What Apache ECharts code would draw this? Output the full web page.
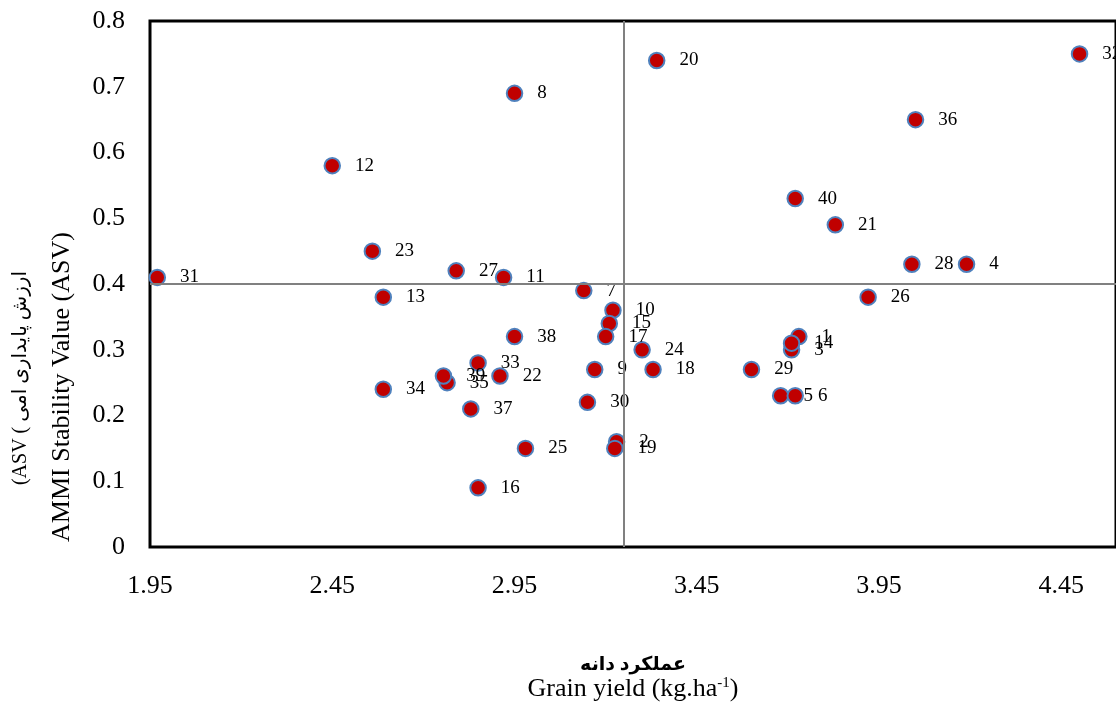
<!DOCTYPE html>
<html>
<head>
<meta charset="utf-8">
<script src="https://cdn.jsdelivr.net/npm/echarts@6/dist/echarts.min.js"></script>
<style>
html,body{margin:0;padding:0;background:#fff;}
#chart{width:1116px;height:721px;}
</style>
</head>
<body>
<div id="chart"></div>
<script>
// ---- data ----
const genotypes = ['1','2','3','4','5','6','7','8','9','10','11','12','13','14','15','16','17','18','19','20',
                   '21','22','23','24','25','26','27','28','29','30','31','32','33','34','35','36','37','38','39','40'];
const grainYield = [3.73,3.23,3.71,4.19,3.68,3.72,3.14,2.95,3.17,3.22,2.92,2.45,2.59,3.71,3.21,2.85,3.20,3.33,3.225,3.34,
                    3.83,2.91,2.56,3.30,2.98,3.92,2.79,4.04,3.60,3.15,1.97,4.50,2.85,2.59,2.765,4.05,2.83,2.95,2.755,3.72];
const asvValues  = [0.32,0.16,0.30,0.43,0.23,0.23,0.39,0.69,0.27,0.36,0.41,0.58,0.38,0.31,0.34,0.09,0.32,0.27,0.15,0.74,
                    0.49,0.26,0.45,0.30,0.15,0.38,0.42,0.43,0.27,0.22,0.41,0.75,0.28,0.24,0.25,0.65,0.21,0.32,0.26,0.53];
const meanYield = 3.25;
const meanASV = 0.4;
const xTickMin = 1.95, xTickStep = 0.5, xMax = 4.6;
const yTickMin = 0, yTickStep = 0.1, yMax = 0.8;

const FONT = "'Liberation Serif', 'Times New Roman', 'DejaVu Sans', serif";

const points = genotypes.map((g, i) => ({ name: g, value: [grainYield[i], asvValues[i]] }));

const chart = echarts.init(document.getElementById('chart'), null, { renderer: 'canvas' });
chart.setOption({
  animation: false,
  backgroundColor: '#fff',
  grid: { left: 150, right: 0, top: 21, bottom: 174, show: true, borderColor: '#000', borderWidth: 3, backgroundColor: 'transparent' },
  xAxis: {
    type: 'value', min: xTickMin, max: xMax, interval: xTickStep,
    axisLine: { show: false }, axisTick: { show: false }, splitLine: { show: false },
    axisLabel: {
      color: '#000', fontFamily: FONT, fontSize: 26, margin: 26,
      showMaxLabel: false,
      formatter: v => (Math.abs(v - xMax) < 1e-9 ? '' : v.toFixed(2))
    }
  },
  yAxis: {
    type: 'value', min: yTickMin, max: yMax, interval: yTickStep,
    axisLine: { show: false }, axisTick: { show: false }, splitLine: { show: false },
    axisLabel: { color: '#000', fontFamily: FONT, fontSize: 26, margin: 25 }
  },
  series: [
    {
      type: 'scatter', data: [], z: 1, silent: true,
      markLine: {
        silent: true, symbol: 'none', label: { show: false },
        lineStyle: { color: '#808080', width: 2, type: 'solid' },
        data: [{ xAxis: meanYield }, { yAxis: meanASV }]
      }
    },
    {
      type: 'scatter', z: 3,
      data: points,
      symbol: 'circle', symbolSize: 15.5,
      itemStyle: { color: '#c00000', borderColor: '#4f81bd', borderWidth: 2, opacity: 1 },
      label: {
        show: true, position: 'right', distance: 14,
        formatter: p => p.name,
        color: '#000', fontFamily: FONT, fontSize: 19
      }
    }
  ],
  graphic: [
    {
      type: 'text', x: 62, y: 387, rotation: Math.PI / 2,
      style: { text: 'AMMI Stability Value (ASV)', fill: '#000', font: '26px ' + FONT, align: 'center', verticalAlign: 'middle' }
    },
    {
      type: 'text', x: 21, y: 378, rotation: Math.PI / 2,
      style: { text: '(ASV ( ارزش پایداری امی', fill: '#000', font: '20px ' + FONT, align: 'center', verticalAlign: 'middle' }
    },
    {
      type: 'text', x: 633, y: 665,
      style: { text: 'عملکرد دانه', fill: '#000', font: 'bold 19px ' + FONT, align: 'center', verticalAlign: 'middle' }
    },
    {
      type: 'text', x: 633, y: 689,
      style: {
        text: 'Grain yield (kg.ha{sup|-1})', fill: '#000', font: '26px ' + FONT, align: 'center', verticalAlign: 'middle',
        rich: { sup: { fontSize: 15, fontFamily: FONT, verticalAlign: 'top', padding: [0, 0, 11, 0], fill: '#000' } }
      }
    }
  ]
});
</script>
</body>
</html>
